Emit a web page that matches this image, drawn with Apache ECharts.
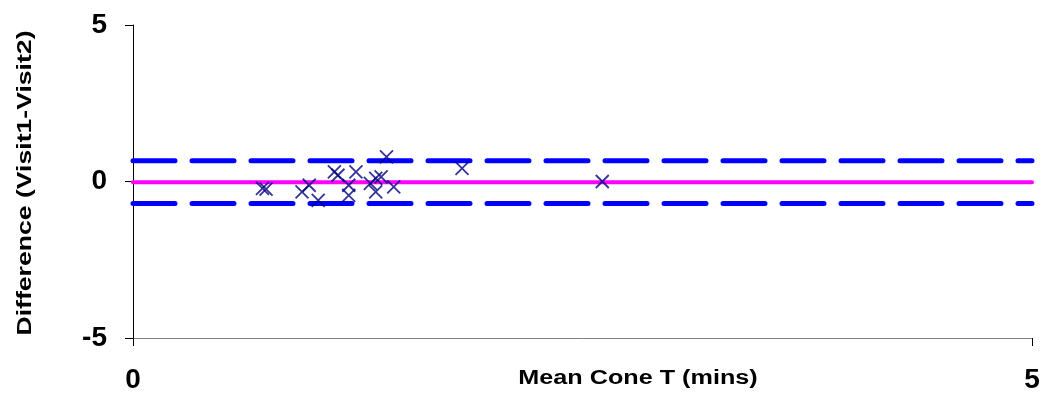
<!DOCTYPE html>
<html>
<head>
<meta charset="utf-8">
<script src="https://cdn.jsdelivr.net/npm/echarts@6/dist/echarts.min.js"></script>
<style>
  html, body { margin: 0; padding: 0; background: #fff; }
  #chart { width: 1044px; height: 396px; }
</style>
</head>
<body>
<div id="chart"></div>
<script>
// mean cone time vs difference between visits
const meanCone = [0.72, 0.74, 0.94, 0.98, 1.03, 1.12, 1.14, 1.24, 1.20, 1.20,
                  1.41, 1.32, 1.35, 1.38, 1.35, 1.45, 1.83, 2.61];
const diffs = [-0.22, -0.24, -0.33, -0.12, -0.60, 0.31, 0.20, 0.31, -0.12, -0.44,
               0.79, -0.06, 0.10, 0.15, -0.33, -0.17, 0.42, 0.00];
const meanDiff = -0.02;
const upperLimit = 0.66;
const lowerLimit = -0.70;
const xRange = [0, 5];
const yRange = [-5, 5];
const xTitle = "Mean Cone T (mins)";
const yTitle = "Difference (Visit1-Visit2)";

const chart = echarts.init(document.getElementById("chart"));

const font = "Liberation Sans, Arial, sans-serif";

function hline(v, color, width, type) {
  return {
    type: "line",
    data: [[xRange[0], v], [xRange[1], v]],
    symbol: "none",
    silent: true,
    lineStyle: { color: color, width: width, type: type, cap: "round" },
    z: 2,
  };
}

const option = {
  animation: false,
  grid: { left: 133, right: 12, top: 25, bottom: 58, outerBoundsMode: "none", containLabel: false },
  // axis titles: the original text is stretched wide, so draw with scaleX
  graphic: [
    {
      type: "text",
      x: 638, y: 378,
      scaleX: 1.26,
      style: {
        text: xTitle, fontFamily: font, fontWeight: "bold", fontSize: 20,
        fill: "#000", align: "center", verticalAlign: "middle",
      },
    },
    {
      type: "text",
      x: 25, y: 183,
      rotation: Math.PI / 2,
      scaleX: 1.33,
      style: {
        text: yTitle, fontFamily: font, fontWeight: "bold", fontSize: 20,
        fill: "#000", align: "center", verticalAlign: "middle",
      },
    },
  ],
  xAxis: {
    type: "value",
    min: xRange[0],
    max: xRange[1],
    interval: 5,
    axisLine: { onZero: false, lineStyle: { color: "#808080", width: 1 } },
    axisTick: { show: true, length: 8, lineStyle: { color: "#000" } },
    axisLabel: { fontFamily: font, fontWeight: "bold", fontSize: 28, color: "#000", margin: 28 },
    splitLine: { show: false },
  },
  yAxis: {
    type: "value",
    min: yRange[0],
    max: yRange[1],
    interval: 5,
    axisLine: { show: true, lineStyle: { color: "#000", width: 1 } },
    axisTick: { show: true, length: 8, lineStyle: { color: "#000" } },
    axisLabel: { fontFamily: font, fontWeight: "bold", fontSize: 28, color: "#000", margin: 26 },
    splitLine: { show: false },
  },
  series: [
    hline(upperLimit, "#0000ff", 5, [42, 17]),
    hline(lowerLimit, "#0000ff", 5, [42, 17]),
    hline(meanDiff, "#ff00ff", 4, "solid"),
    {
      type: "scatter",
      data: meanCone.map((x, i) => [x, diffs[i]]),
      symbol: "path://M0,0L10,10M10,0L0,10",
      symbolSize: 13,
      itemStyle: { color: "none", borderColor: "#000080", borderWidth: 1.8 },
      z: 5,
    },
  ],
};

chart.setOption(option);
</script>
</body>
</html>
